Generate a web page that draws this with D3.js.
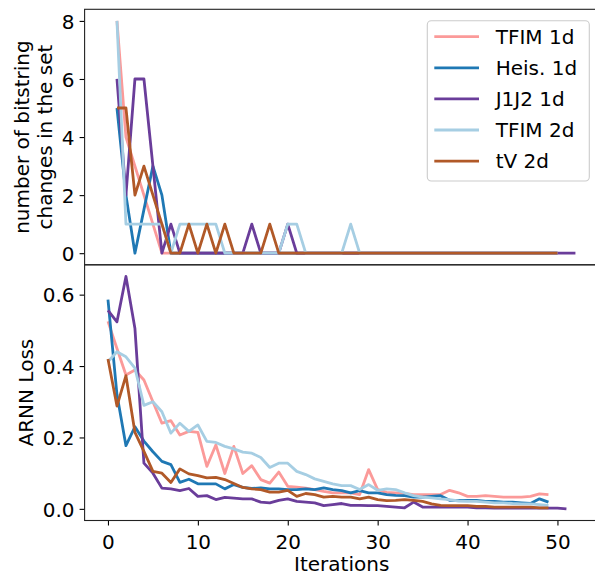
<!DOCTYPE html>
<html><head><meta charset="utf-8">
<script src="https://cdn.jsdelivr.net/npm/d3@7"></script>
<style>html,body{margin:0;padding:0;background:#fff;}svg{display:block;font-family:"DejaVu Sans",sans-serif;}</style>
</head><body>
<svg id="chart" width="595" height="575"></svg>
<script>
// ---- data ----
const seriesNames = ["TFIM 1d", "Heis. 1d", "J1J2 1d", "TFIM 2d", "tV 2d"];
const seriesColors = ["#fb9a99", "#1f78b4", "#6a3d9a", "#a6cee3", "#b15928"];
const topFirstIteration = 1;   // top panel starts at iteration 1
const lossFirstIteration = 0;  // bottom panel starts at iteration 0

// number of bitstring changes in the set (iterations 1..)
const tfim1dChanges = [8,4,3,2,1,0,0,0,0,0, 0,0,0,0,0,0,0,0,0,0, 0,0,0,0,0,0,0,0,0,0, 0,0,0,0,0,0,0,0,0,0, 0,0,0,0,0,0,0,0,0,0];
const heis1dChanges = [5,2,0,1.5,3,2,0,0,0,0, 0,0,0,0,0,0,0,0,0,0, 0,0,0,0,0,0,0,0,0,0, 0,0,0,0,0,0,0,0,0,0, 0,0,0,0,0,0,0,0,0,0];
const j1j21dChanges = [6,2,6,6,3,0,1,0,0,0, 0,0,0,0,0,1,0,0,0,1, 0,0,0,0,0,0,0,0,0,0, 0,0,0,0,0,0,0,0,0,0, 0,0,0,0,0,0,0,0,0,0, 0,0];
const tfim2dChanges = [8,1,1,1,1,1,0,1,1,1, 1,1,0,0,0,0,0,0,0,1, 1,0,0,0,0,0,1,0,0,0, 0,0,0,0,0,0,0,0,0,0, 0,0,0,0,0,0,0,0,0,0];
const tv2dChanges   = [5,5,2,3,2,1,0,0,1,0, 1,0,1,0,0,0,0,1,0,0, 0,0,0,0,0,0,0,0,0,0, 0,0,0,0,0,0,0,0,0,0, 0,0,0,0,0,0,0,0,0,0];

// ARNN loss (iterations 0..)
const tfim1dLoss = [0.525,0.449,0.375,0.389,0.361,0.300,0.240,0.247,0.207,0.217, 0.214,0.119,0.179,0.099,0.175,0.099,0.121,0.082,0.072,0.103,
  0.063,0.061,0.058,0.054,0.049,0.045,0.045,0.045,0.040,0.110, 0.054,0.046,0.045,0.043,0.040,0.040,0.040,0.040,0.052,0.045,
  0.035,0.035,0.037,0.035,0.033,0.033,0.033,0.035,0.042,0.040];
const heis1dLoss = [0.586,0.320,0.177,0.230,0.190,0.160,0.133,0.124,0.074,0.083, 0.070,0.070,0.070,0.056,0.068,0.060,0.057,0.059,0.056,0.056,
  0.054,0.054,0.056,0.054,0.059,0.054,0.051,0.045,0.051,0.045, 0.045,0.040,0.038,0.037,0.033,0.033,0.035,0.037,0.024,0.024,
  0.024,0.024,0.021,0.021,0.019,0.019,0.017,0.015,0.028,0.019];
const j1j21dLoss = [0.556,0.524,0.651,0.505,0.128,0.100,0.058,0.056,0.051,0.057, 0.035,0.037,0.026,0.032,0.030,0.028,0.028,0.019,0.017,0.024,
  0.028,0.021,0.019,0.017,0.009,0.012,0.015,0.010,0.010,0.009, 0.009,0.007,0.005,0.003,0.019,0.005,0.005,0.005,0.005,0.005,
  0.005,0.003,0.003,0.002,0.002,0.002,0.002,0.002,0.002,0.002, 0.002,0.000];
const tfim2dLoss = [0.412,0.440,0.426,0.394,0.290,0.300,0.272,0.212,0.240,0.217, 0.235,0.189,0.186,0.175,0.168,0.159,0.156,0.144,0.116,0.128,
  0.128,0.105,0.096,0.084,0.077,0.070,0.065,0.065,0.054,0.068, 0.052,0.056,0.054,0.045,0.037,0.033,0.031,0.028,0.026,0.022,
  0.021,0.021,0.019,0.017,0.017,0.015,0.014,0.014,0.012,0.010];
const tv2dLoss = [0.420,0.288,0.373,0.214,0.161,0.105,0.100,0.074,0.112,0.098, 0.093,0.087,0.088,0.082,0.071,0.060,0.056,0.054,0.047,0.047,
  0.052,0.035,0.043,0.040,0.033,0.035,0.033,0.033,0.028,0.033, 0.026,0.023,0.024,0.026,0.024,0.021,0.014,0.010,0.009,0.009,
  0.009,0.007,0.007,0.005,0.005,0.005,0.005,0.005,0.003,0.003];

const xTicks = [0,10,20,30,40,50];
const topYTicks = [0,2,4,6,8];
const lossYTicks = [0.0,0.2,0.4,0.6];
const topYLabel = ["number of bitstring", "changes in the set"];
const lossYLabel = "ARNN Loss";
const xLabel = "Iterations";

const changesSeries = [tfim1dChanges, heis1dChanges, j1j21dChanges, tfim2dChanges, tv2dChanges];
const lossSeries = [tfim1dLoss, heis1dLoss, j1j21dLoss, tfim2dLoss, tv2dLoss];

// ---- layout ----
const left = 84.6, right = 598.8;
const topY0 = 9.3, topY1 = 264.8, botY1 = 520.5;
const svg = d3.select("#chart");
const FS = 20;

const x = d3.scaleLinear().domain([-2.6, 54.6]).range([left, right]);
const yTop = d3.scaleLinear().domain([-0.4, 8.4]).range([topY1, topY0]);
const yBot = d3.scaleLinear().domain([-0.0326, 0.6836]).range([botY1, topY1]);

const defs = svg.append("defs");
defs.append("clipPath").attr("id","clipTop").append("rect").attr("x",left).attr("y",topY0).attr("width",right-left).attr("height",topY1-topY0);
defs.append("clipPath").attr("id","clipBot").append("rect").attr("x",left).attr("y",topY1).attr("width",right-left).attr("height",botY1-topY1);

function drawLines(series, y, start, clip) {
  const g = svg.append("g").attr("clip-path", `url(#${clip})`);
  series.forEach((vals, i) => {
    const line = d3.line().x((d, j) => x(j + start)).y(d => y(d));
    g.append("path").attr("d", line(vals)).attr("fill","none")
      .attr("stroke", seriesColors[i]).attr("stroke-width", 2.8)
      .attr("stroke-linejoin","round").attr("stroke-linecap","butt");
  });
}
drawLines(changesSeries, yTop, topFirstIteration, "clipTop");
drawLines(lossSeries, yBot, lossFirstIteration, "clipBot");

// axes
function styleAxis(g) {
  g.selectAll("path.domain").remove();
  g.selectAll(".tick line").attr("stroke","#000").attr("stroke-width",1.1);
  g.selectAll(".tick text").attr("font-size",FS).attr("font-family","DejaVu Sans").attr("fill","#000");
}
const axTop = svg.append("g").attr("transform",`translate(${left},0)`)
  .call(d3.axisLeft(yTop).tickValues(topYTicks).tickFormat(d3.format("d")).tickSize(5).tickPadding(5));
styleAxis(axTop);
axTop.selectAll(".tick text").attr("dy","0.36em");
const axBot = svg.append("g").attr("transform",`translate(${left},0)`)
  .call(d3.axisLeft(yBot).tickValues(lossYTicks).tickFormat(d3.format(".1f")).tickSize(5).tickPadding(5));
styleAxis(axBot);
axBot.selectAll(".tick text").attr("dy","0.36em");
const axX = svg.append("g").attr("transform",`translate(0,${botY1})`)
  .call(d3.axisBottom(x).tickValues(xTicks).tickFormat(d3.format("d")).tickSize(5).tickPadding(5));
styleAxis(axX);
axX.selectAll(".tick text").attr("dy","0.9em");

// frames
[[topY0, topY1],[topY1, botY1]].forEach(([a,b]) => {
  svg.append("rect").attr("x",left).attr("y",a).attr("width",right-left).attr("height",b-a)
    .attr("fill","none").attr("stroke","#222").attr("stroke-width",1.1);
});

// labels
const tl = svg.append("text").attr("transform",`translate(40,${(topY0+topY1)/2}) rotate(-90)`)
  .attr("text-anchor","middle").attr("font-size",FS).attr("fill","#000");
tl.append("tspan").attr("x",0).attr("dy","-0.55em").text(topYLabel[0]);
tl.append("tspan").attr("x",0).attr("dy","1.15em").text(topYLabel[1]);
svg.append("text").attr("transform",`translate(33,${(topY1+botY1)/2}) rotate(-90)`)
  .attr("text-anchor","middle").attr("font-size",FS).attr("fill","#000").text(lossYLabel);
svg.append("text").attr("x",(left+right)/2).attr("y",571).attr("text-anchor","middle")
  .attr("font-size",FS).attr("fill","#000").text(xLabel);

// legend
const lg = svg.append("g");
lg.append("rect").attr("x",427.3).attr("y",20.7).attr("width",162).attr("height",160.3)
  .attr("rx",4).attr("fill","#fff").attr("fill-opacity",0.8).attr("stroke","#cccccc").attr("stroke-width",1.1);
seriesNames.forEach((name, i) => {
  const yy = 36.7 + i*31.1;
  lg.append("line").attr("x1",434.3).attr("x2",479).attr("y1",yy).attr("y2",yy)
    .attr("stroke",seriesColors[i]).attr("stroke-width",2.8);
  lg.append("text").attr("x",495.7).attr("y",yy+7.3).attr("font-size",FS).attr("fill","#000").text(name);
});
</script>
</body></html>
